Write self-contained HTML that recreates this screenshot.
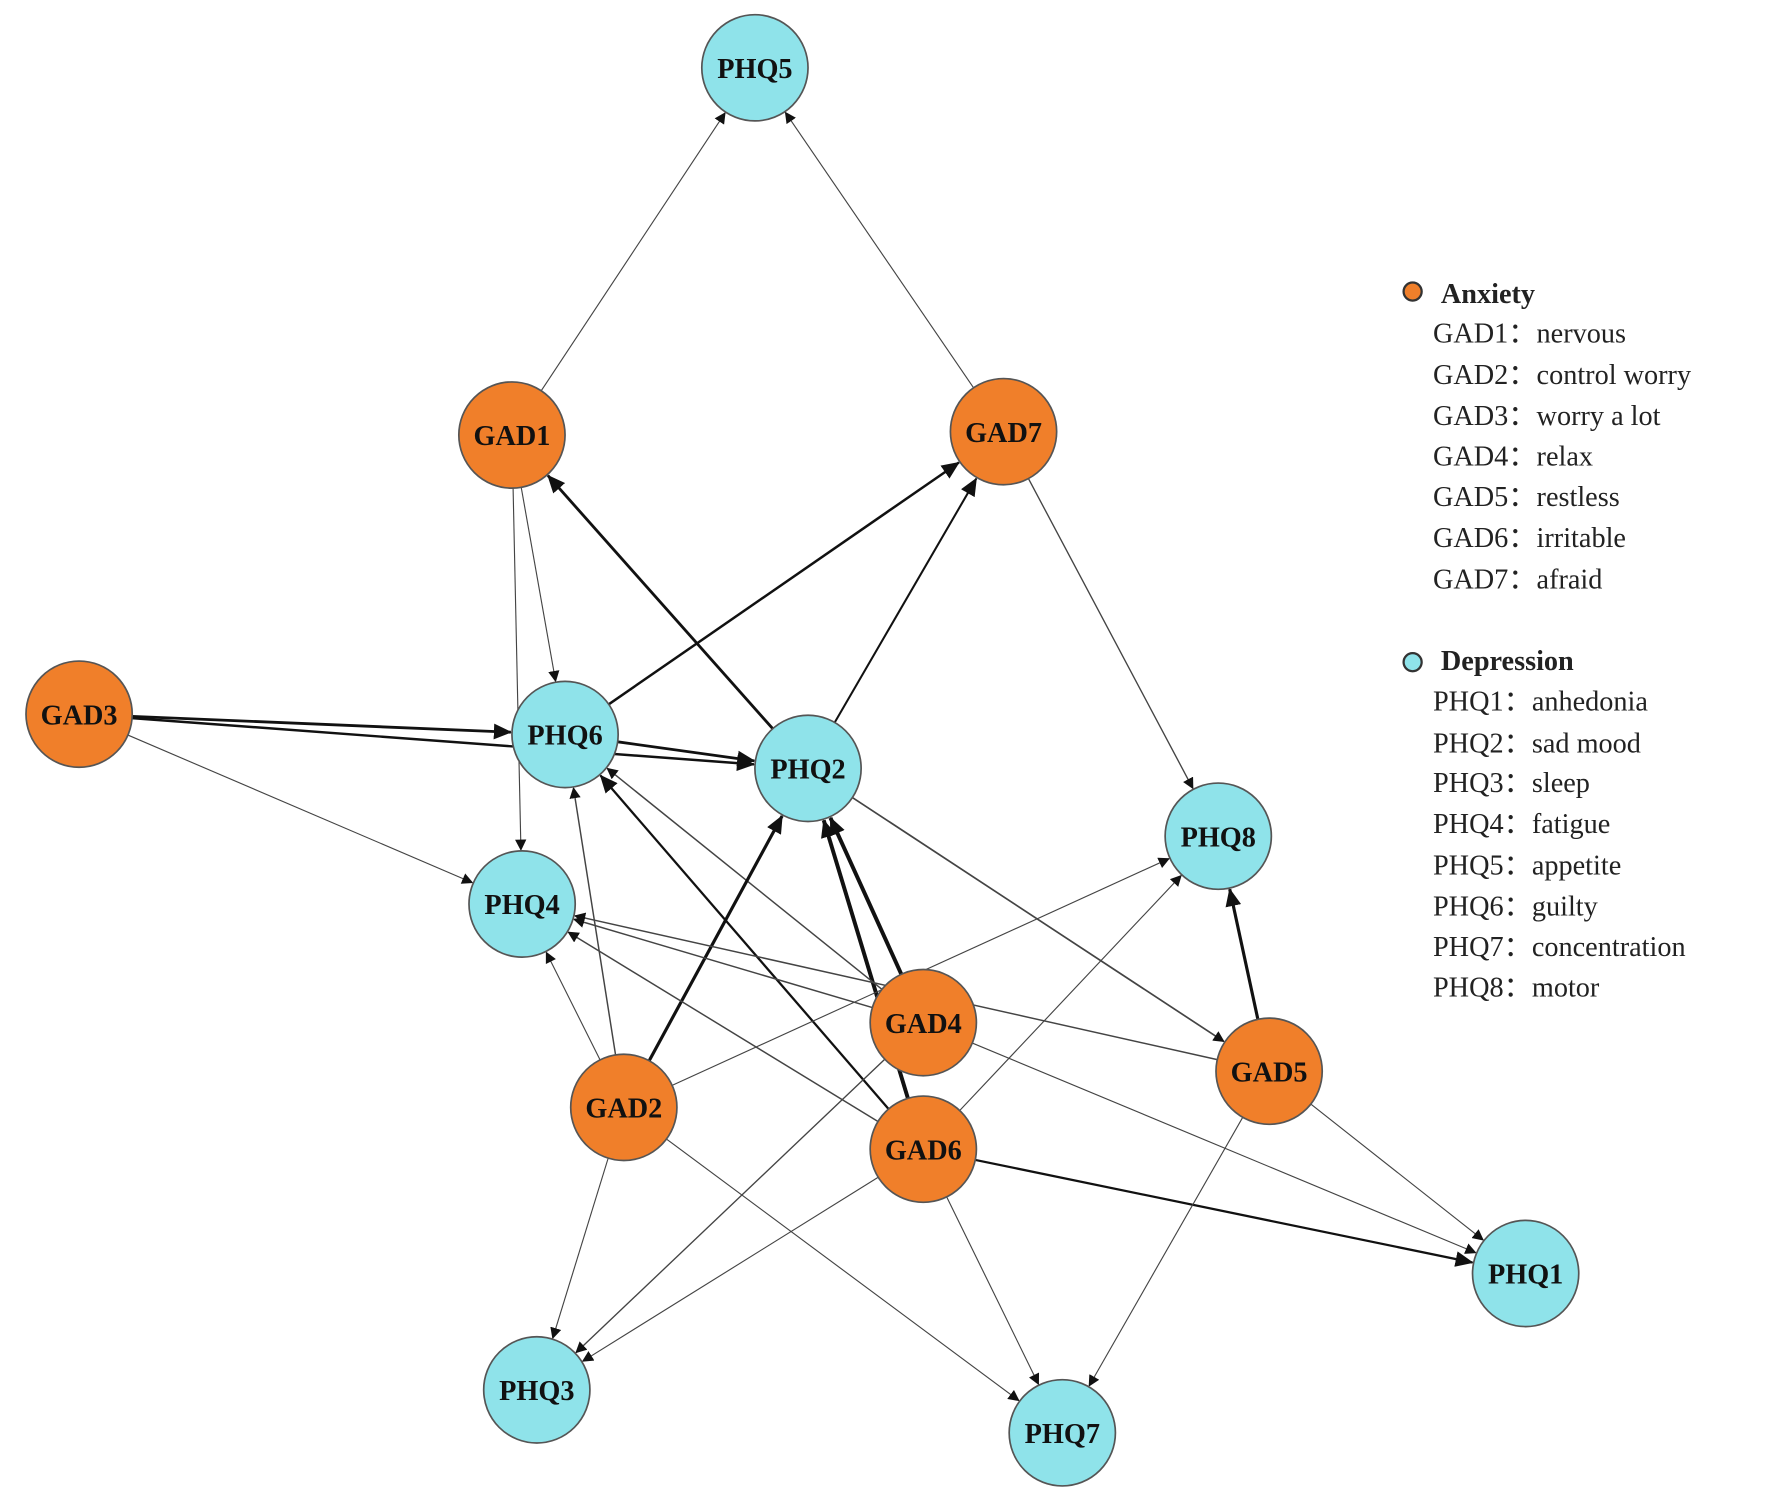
<!DOCTYPE html>
<html><head><meta charset="utf-8"><style>
html,body{margin:0;padding:0;background:#fff;}
svg{display:block;}
text{font-family:"Liberation Serif",serif;}
</style></head><body>
<svg id="s" width="1772" height="1504" viewBox="0 0 1568 1331" preserveAspectRatio="none" xmlns="http://www.w3.org/2000/svg">
<defs>
<marker id="a" markerWidth="10" markerHeight="10" refX="9" refY="5" orient="auto" markerUnits="userSpaceOnUse" viewBox="0 0 10 10"><path d="M0,0 L10,5 L0,10 z" fill="#111" transform="scale(1)"/></marker>
<marker id="b" markerWidth="16" markerHeight="14" refX="15" refY="7" orient="auto" markerUnits="userSpaceOnUse" viewBox="0 0 16 14"><path d="M0,0 L16,7 L0,14 z" fill="#111"/></marker>
</defs>
<g id="edges"></g>
<g id="nodes"></g>
<g font-size="25" fill="#222">
<circle cx="1250" cy="258" r="8" fill="#f07f2a" stroke="#333" stroke-width="2"/>
<text x="1275" y="268" font-weight="bold">Anxiety</text>
<text x="1268" y="303">GAD1：nervous</text>
<text x="1268" y="340">GAD2：control worry</text>
<text x="1268" y="376">GAD3：worry a lot</text>
<text x="1268" y="412">GAD4：relax</text>
<text x="1268" y="448">GAD5：restless</text>
<text x="1268" y="484">GAD6：irritable</text>
<text x="1268" y="521">GAD7：afraid</text>
<circle cx="1250" cy="586" r="8" fill="#8fe3ea" stroke="#333" stroke-width="2"/>
<text x="1275" y="593" font-weight="bold">Depression</text>
<text x="1268" y="629">PHQ1：anhedonia</text>
<text x="1268" y="666">PHQ2：sad mood</text>
<text x="1268" y="701">PHQ3：sleep</text>
<text x="1268" y="737">PHQ4：fatigue</text>
<text x="1268" y="774">PHQ5：appetite</text>
<text x="1268" y="810">PHQ6：guilty</text>
<text x="1268" y="846">PHQ7：concentration</text>
<text x="1268" y="882">PHQ8：motor</text>
</g>
</svg>
<script>
var N={PHQ5:[668,60],GAD1:[453,385],GAD7:[888,382],GAD3:[70,632],PHQ6:[500,650],PHQ2:[715,680],PHQ8:[1078,740],PHQ4:[462,800],GAD4:[817,905],GAD5:[1123,948],GAD2:[552,980],GAD6:[817,1017],PHQ1:[1350,1127],PHQ3:[475,1230],PHQ7:[940,1268]};
var R=47;
var E=[["GAD1","PHQ5",1],["GAD7","PHQ5",1],["GAD1","PHQ6",1],["GAD1","PHQ4",1],["PHQ2","GAD1",2.5],["PHQ6","GAD7",2.2],["PHQ2","GAD7",1.8],["GAD7","PHQ8",1.2],["GAD3","PHQ6",2.5],["GAD3","PHQ2",2.2],["GAD3","PHQ4",1],["PHQ6","PHQ2",2.5],["PHQ2","GAD5",1.5],["GAD4","PHQ2",3.5],["GAD6","PHQ2",3.5],["GAD4","PHQ6",1.3],["GAD6","PHQ6",2],["GAD2","PHQ6",1.3],["GAD2","PHQ4",1],["GAD2","PHQ2",2.8],["GAD4","PHQ4",1.3],["GAD5","PHQ4",1.3],["GAD6","PHQ4",1.3],["GAD2","PHQ8",1],["GAD6","PHQ8",1],["GAD4","PHQ3",1.2],["GAD5","PHQ8",2.8],["GAD5","PHQ1",1],["GAD4","PHQ1",1],["GAD6","PHQ1",2],["GAD5","PHQ7",1],["GAD6","PHQ7",1],["GAD2","PHQ7",1],["GAD2","PHQ3",1],["GAD6","PHQ3",1]];
var ns="http://www.w3.org/2000/svg",eg=document.getElementById("edges"),ng=document.getElementById("nodes");
E.forEach(function(e){var a=N[e[0]],b=N[e[1]],dx=b[0]-a[0],dy=b[1]-a[1],d=Math.sqrt(dx*dx+dy*dy),ux=dx/d,uy=dy/d;
var l=document.createElementNS(ns,"line");l.setAttribute("x1",a[0]+ux*R);l.setAttribute("y1",a[1]+uy*R);l.setAttribute("x2",b[0]-ux*(R+1));l.setAttribute("y2",b[1]-uy*(R+1));
l.setAttribute("stroke",e[2]>1.6?"#111":"#444");l.setAttribute("stroke-width",e[2]);l.setAttribute("marker-end",e[2]>1.6?"url(#b)":"url(#a)");eg.appendChild(l);});
for(var k in N){var p=N[k],c=document.createElementNS(ns,"circle");c.setAttribute("cx",p[0]);c.setAttribute("cy",p[1]);c.setAttribute("r",R);
c.setAttribute("fill",k[0]=="G"?"#f07f2a":"#8fe3ea");c.setAttribute("stroke","#555");c.setAttribute("stroke-width","1.5");ng.appendChild(c);
var t=document.createElementNS(ns,"text");t.setAttribute("x",p[0]);t.setAttribute("y",p[1]+9);t.setAttribute("text-anchor","middle");t.setAttribute("font-size","25");t.setAttribute("font-weight","bold");t.setAttribute("fill","#111");t.textContent=k;ng.appendChild(t);}
</script>
</body></html>
